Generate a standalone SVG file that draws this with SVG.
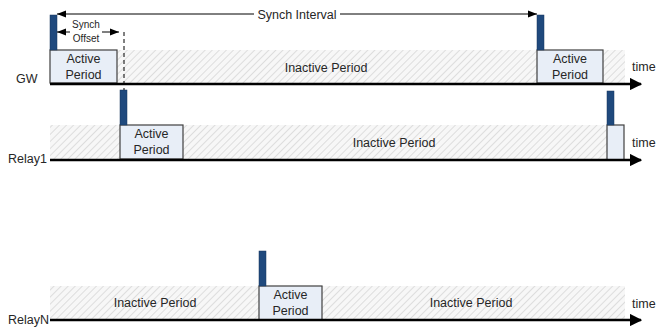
<svg xmlns="http://www.w3.org/2000/svg" width="658" height="329" viewBox="0 0 658 329">
<defs>
<pattern id="hatch" patternUnits="userSpaceOnUse" width="5" height="5" patternTransform="rotate(45)">
<rect width="5" height="5" fill="#f7f7f7"/>
<line x1="0" y1="0" x2="0" y2="5" stroke="#c8c8c8" stroke-width="1.1"/>
</pattern>
<marker id="ax" viewBox="0 0 10 10" refX="9" refY="5" markerWidth="5" markerHeight="5" orient="auto" markerUnits="strokeWidth"><path d="M0,0 L10,5 L0,10 z" fill="#000"/></marker>
<marker id="ar" viewBox="0 0 10 10" refX="10" refY="5" markerWidth="9" markerHeight="9" orient="auto-start-reverse" markerUnits="userSpaceOnUse"><path d="M0,1 L10,5 L0,9 z" fill="#000"/></marker>
</defs>
<style>
.t{font-family:"Liberation Sans",Arial,sans-serif;font-size:12.5px;fill:#262626}
.s{font-family:"Liberation Sans",Arial,sans-serif;font-size:10px;fill:#262626}
.hat{fill:url(#hatch);stroke:none}
.act{fill:#e8eef7;stroke:#404040;stroke-width:1.2}
.bar{fill:#1f497d;stroke:#17365d;stroke-width:0.5}
.axis{stroke:#000;stroke-width:2.5;fill:none}
.lab{font-family:"Liberation Sans",Arial,sans-serif;font-size:12.5px;fill:#262626}
</style>
<g id="GW">
<rect class="hat" x="50" y="50" width="575" height="33"/>
<rect class="act" x="50" y="50" width="67" height="33"/>
<rect class="act" x="537" y="50" width="66" height="33"/>
<rect class="bar" x="50" y="15" width="7" height="35"/>
<rect class="bar" x="537" y="15" width="7" height="35"/>
<text class="t" x="83.5" y="63" text-anchor="middle">Active</text>
<text class="t" x="83.5" y="79" text-anchor="middle">Period</text>
<text class="t" x="570" y="63" text-anchor="middle">Active</text>
<text class="t" x="570" y="79" text-anchor="middle">Period</text>
<text class="t" x="326" y="72" text-anchor="middle">Inactive Period</text>
<text class="lab" x="16" y="83">GW</text>
<text class="lab" x="632" y="71">time</text>
</g>
<g id="Relay1">
<rect class="hat" x="50" y="125" width="557" height="35"/>
<rect class="act" x="120" y="125" width="63" height="34"/>
<rect class="act" x="607" y="125" width="17" height="35"/>
<rect class="bar" x="120" y="90" width="7" height="35"/>
<rect class="bar" x="607" y="91" width="7" height="34"/>
<text class="t" x="151.5" y="138" text-anchor="middle">Active</text>
<text class="t" x="151.5" y="154" text-anchor="middle">Period</text>
<text class="t" x="394" y="147" text-anchor="middle">Inactive Period</text>
<text class="lab" x="8" y="163">Relay1</text>
<text class="lab" x="632" y="147">time</text>
</g>
<g id="RelayN">
<rect class="hat" x="50" y="286" width="575" height="34"/>
<rect class="act" x="259" y="286" width="63" height="34"/>
<rect class="bar" x="259" y="251" width="7" height="35"/>
<text class="t" x="290.5" y="299" text-anchor="middle">Active</text>
<text class="t" x="290.5" y="315" text-anchor="middle">Period</text>
<text class="t" x="155" y="307" text-anchor="middle">Inactive Period</text>
<text class="t" x="471" y="307" text-anchor="middle">Inactive Period</text>
<text class="lab" x="8" y="324">RelayN</text>
<text class="lab" x="632" y="308">time</text>
</g>
<g id="connectors">
<line class="axis" x1="50" y1="84" x2="641" y2="84" marker-end="url(#ax)"/>
<line class="axis" x1="50" y1="160" x2="641" y2="160" marker-end="url(#ax)"/>
<line class="axis" x1="50" y1="320" x2="641" y2="320" marker-end="url(#ax)"/>
<line x1="57" y1="14" x2="537" y2="14" stroke="#000" stroke-width="1" marker-start="url(#ar)" marker-end="url(#ar)"/>
<rect x="254" y="7" width="86" height="14" fill="#fff"/>
<text class="t" x="297" y="18.5" text-anchor="middle">Synch Interval</text>
<line x1="57" y1="32" x2="119" y2="32" stroke="#000" stroke-width="1" marker-start="url(#ar)" marker-end="url(#ar)"/>
<rect x="70" y="26" width="32" height="12" fill="#fff"/>
<text class="s" x="86" y="28" text-anchor="middle">Synch</text>
<text class="s" x="86" y="42" text-anchor="middle">Offset</text>
<line x1="124" y1="32" x2="124" y2="90" stroke="#000" stroke-width="1" stroke-dasharray="4,3"/>
</g>
</svg>
